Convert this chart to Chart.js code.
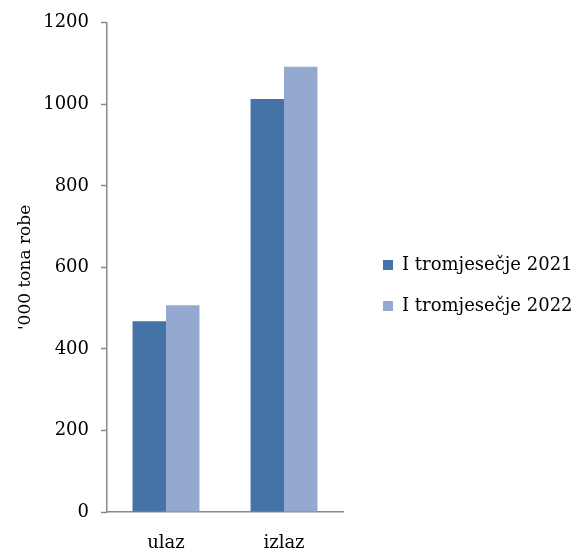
<!DOCTYPE html>
<html lang="hr">
<head>
    <meta charset="UTF-8">
    <title>Promet robe - ulaz i izlaz</title>
    <script src="https://cdn.jsdelivr.net/npm/chart.js@4.4.0/dist/chart.umd.min.js"></script>
    <style>
        html, body { margin: 0; padding: 0; background: #ffffff; }
        #wrap { width: 574px; height: 551px; }
    </style>
</head>
<body>
    <div id="wrap"><canvas id="chart"></canvas></div>
    <script>
        // podaci
        const categories = ['ulaz', 'izlaz'];
        const seriesNames = ['I tromjesečje 2021', 'I tromjesečje 2022'];
        const values2021 = [468, 1013];
        const values2022 = [507, 1092];
        const yTicks = [0, 200, 400, 600, 800, 1000, 1200];

        const axisGray = '#898989';
        const serif = "'DejaVu Serif', serif";

        new Chart(document.getElementById('chart'), {
            type: 'bar',
            data: {
                labels: categories,
                datasets: [
                    { label: seriesNames[0], data: values2021, backgroundColor: '#4572a7' },
                    { label: seriesNames[1], data: values2022, backgroundColor: '#94a9d0' }
                ]
            },
            options: {
                responsive: true,
                maintainAspectRatio: false,
                animation: false,
                layout: { padding: { left: 5, top: 20, right: 0, bottom: 0 } },
                datasets: {
                    bar: { categoryPercentage: 0.567, barPercentage: 1.0 }
                },
                plugins: {
                    tooltip: { enabled: false },
                    legend: {
                        position: 'right',
                        maxWidth: 214,
                        labels: {
                            color: '#000',
                            font: { family: serif, size: 18 },
                            boxWidth: 10,
                            boxHeight: 10,
                            padding: 23
                        }
                    }
                },
                scales: {
                    x: {
                        grid: { display: false, drawTicks: false },
                        border: { color: axisGray, width: 1.5 },
                        ticks: {
                            color: '#000',
                            padding: 22,
                            font: { family: serif, size: 18, lineHeight: 1 }
                        },
                        afterFit: (scale) => { scale.height = 39; }
                    },
                    y: {
                        min: yTicks[0],
                        max: yTicks[yTicks.length - 1],
                        afterBuildTicks: (scale) => {
                            scale.ticks = yTicks.map(v => ({ value: v }));
                        },
                        grid: {
                            drawOnChartArea: false,
                            tickLength: 6,
                            tickColor: axisGray,
                            tickWidth: 1.5
                        },
                        border: { color: axisGray, width: 1.5 },
                        ticks: {
                            color: '#000',
                            padding: 12,
                            font: { family: serif, size: 18 },
                            callback: (v) => String(v)
                        },
                        title: {
                            display: true,
                            text: "'000 tona robe",
                            color: '#000',
                            padding: { top: 10, bottom: 10 },
                            font: { family: serif, size: 17 }
                        },
                        afterFit: (scale) => { scale.width = 102; }
                    },
                    // razmak izmedju grafa i legende
                    spacer: {
                        type: 'linear',
                        position: 'right',
                        display: true,
                        grid: { display: false },
                        border: { display: false },
                        ticks: { display: false },
                        afterFit: (scale) => { scale.width = 17; }
                    }
                }
            }
        });
    </script>
</body>
</html>
